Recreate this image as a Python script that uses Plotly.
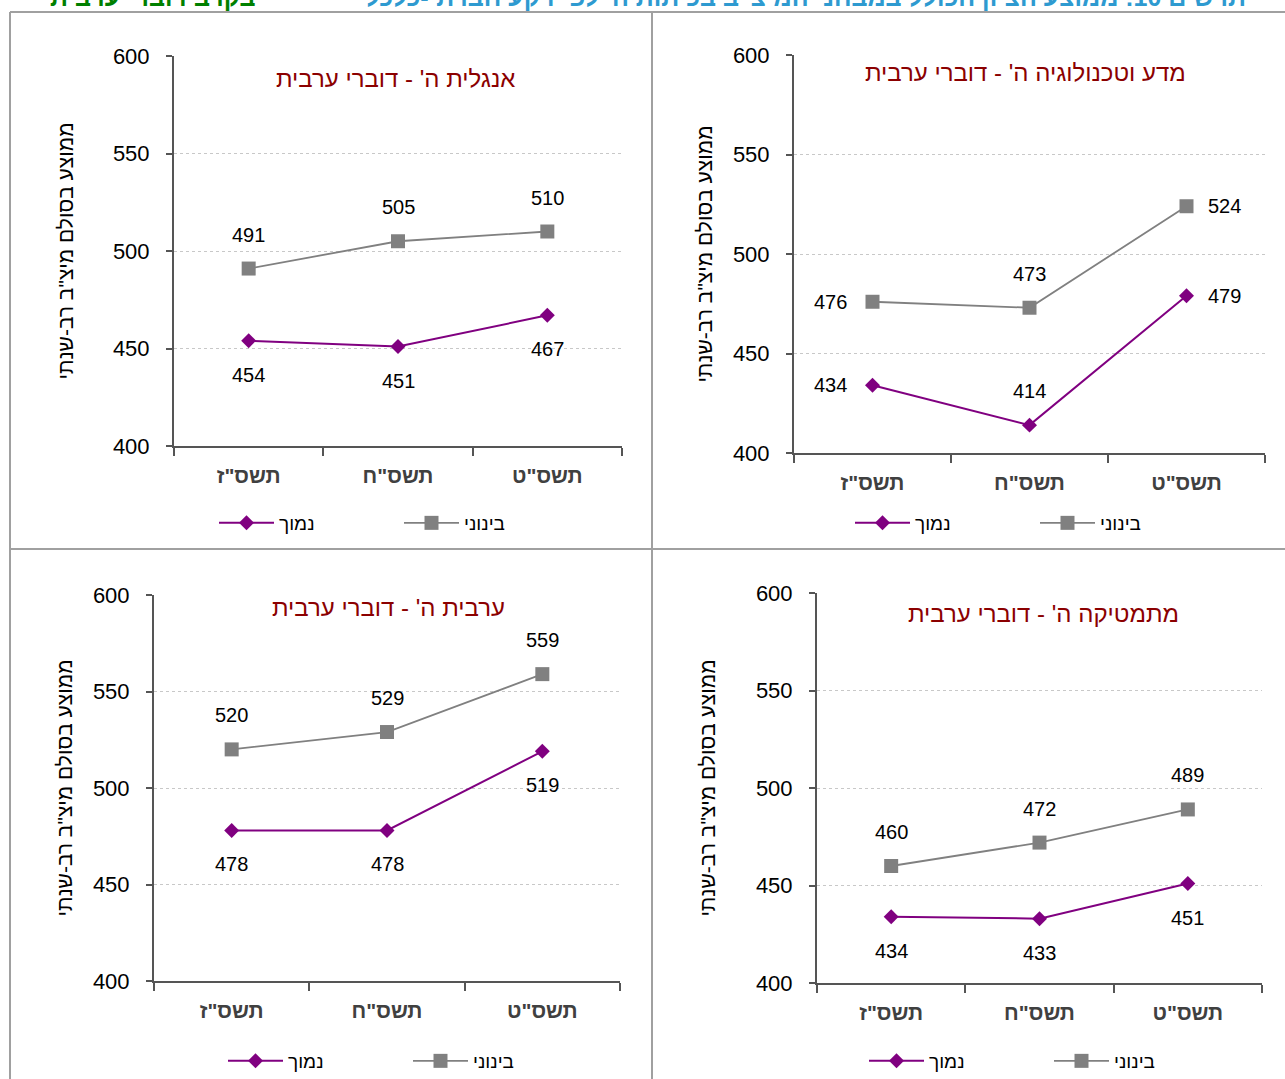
import plotly.graph_objects as go

W, H = 1285, 1079

categories = ['תשס"ז', 'תשס"ח', 'תשס"ט']
series_names = ["נמוך", "בינוני"]

panel_titles = [
    "אנגלית ה' - דוברי ערבית",
    "מדע וטכנולוגיה ה' - דוברי ערבית",
    "ערבית ה' - דוברי ערבית",
    "מתמטיקה ה' - דוברי ערבית",
]

english_low = [454, 451, 467]
english_mid = [491, 505, 510]
science_low = [434, 414, 479]
science_mid = [476, 473, 524]
arabic_low = [478, 478, 519]
arabic_mid = [520, 529, 559]
math_low = [434, 433, 451]
math_mid = [460, 472, 489]

y_ticks = [400, 450, 500, 550, 600]
y_title = 'ממוצע בסולם מיצ"ב רב-שנתי'
main_title_blue = 'תרשים 10: ממוצע הציון הכולל במבחני המיצ"ב בכיתות ה\' לפי רקע חברתי-כלכלי'
main_title_green = "בקרב דוברי ערבית"

# label placement per point
english_low_pos = ["below", "below", "below"]
english_mid_pos = ["above", "above", "above"]
science_low_pos = ["left", "above", "right"]
science_mid_pos = ["left", "above", "right"]
arabic_low_pos = ["below", "below", "below"]
arabic_mid_pos = ["above", "above", "above"]
math_low_pos = ["below", "below", "below"]
math_mid_pos = ["above", "above", "above"]

FONT = "Liberation Sans, Arial, sans-serif"
PURPLE = "#800080"
GRAY = "#808080"
DARKRED = "#8B0000"
AXIS = "#555555"


def px_x(p):
    return p / W


def px_y(p):
    return 1 - p / H


# layout geometry (pixels): plot area left, right, top, bottom
panels = [
    dict(low=english_low, mid=english_mid, lp=english_low_pos, mp=english_mid_pos,
         box=(174, 622, 56, 446), title_xy=(395, 78), legend_x=222, legend_y=523, standoff=34),
    dict(low=science_low, mid=science_mid, lp=science_low_pos, mp=science_mid_pos,
         box=(794, 1265, 55, 453), title_xy=(1025, 73), legend_x=858, legend_y=523, standoff=15),
    dict(low=arabic_low, mid=arabic_mid, lp=arabic_low_pos, mp=arabic_mid_pos,
         box=(154, 620, 595, 981), title_xy=(388, 607), legend_x=231, legend_y=1061, standoff=15),
    dict(low=math_low, mid=math_mid, lp=math_low_pos, mp=math_mid_pos,
         box=(817, 1262, 593, 983), title_xy=(1043, 613), legend_x=872, legend_y=1061, standoff=35),
]

SHIFT = {"above": (0, 34), "below": (0, -34), "left": (-42, 0), "right": (38, 0)}

fig = go.Figure()
annotations = []

for i, p in enumerate(panels):
    n = "" if i == 0 else str(i + 1)
    xa, ya = "x" + n, "y" + n
    leg = "legend" + n
    fig.add_trace(go.Scatter(
        x=categories, y=p["low"], name=series_names[0], mode="lines+markers",
        line=dict(color=PURPLE, width=2),
        marker=dict(symbol="diamond", size=11.5, color=PURPLE),
        xaxis=xa, yaxis=ya, legend=leg, hoverinfo="skip"))
    fig.add_trace(go.Scatter(
        x=categories, y=p["mid"], name=series_names[1], mode="lines+markers",
        line=dict(color=GRAY, width=1.8),
        marker=dict(symbol="square", size=14, color=GRAY),
        xaxis=xa, yaxis=ya, legend=leg, hoverinfo="skip"))

    for vals, poss in ((p["low"], p["lp"]), (p["mid"], p["mp"])):
        for c, v, pos in zip(categories, vals, poss):
            dx, dy = SHIFT[pos]
            annotations.append(dict(
                x=c, y=v, xref=xa, yref=ya, text=str(v), showarrow=False,
                xshift=dx, yshift=dy, font=dict(family=FONT, size=20, color="#000")))

    l, r, t, b = p["box"]
    fig.layout["xaxis" + n] = dict(
        domain=[px_x(l), px_x(r)], anchor=ya, type="category", range=[-0.5, 2.5],
        tickson="boundaries", ticks="outside", ticklen=8, tickcolor=AXIS, tickwidth=1.5,
        showline=True, linecolor=AXIS, linewidth=2, showgrid=False, automargin=False,
        tickfont=dict(family=FONT, size=21, color="#404040", weight="bold"),
        ticklabelstandoff=10, fixedrange=True)
    fig.layout["yaxis" + n] = dict(
        domain=[px_y(b), px_y(t)], anchor=xa, range=[400, 600],
        tickvals=y_ticks, ticks="outside", ticklen=6, tickcolor=AXIS, tickwidth=1.5,
        showline=True, linecolor=AXIS, linewidth=2, automargin=False,
        showgrid=True, gridcolor="#c8c8c8", griddash="dot", gridwidth=1,
        zeroline=False, ticklabelstandoff=12,
        tickfont=dict(family=FONT, size=22, color="#000"),
        title=dict(text=y_title, standoff=p["standoff"],
                   font=dict(family=FONT, size=21, color="#000")),
        fixedrange=True)

    tx, ty = p["title_xy"]
    annotations.append(dict(
        x=px_x(tx), y=px_y(ty), xref="paper", yref="paper", text=panel_titles[i],
        showarrow=False, xanchor="center", yanchor="middle",
        font=dict(family=FONT, size=24, color=DARKRED)))

    fig.layout[leg] = dict(
        orientation="h", x=px_x(p["legend_x"] - 8), y=px_y(p["legend_y"]),
        xanchor="left", yanchor="middle",
        xref="paper", yref="paper", bgcolor="rgba(0,0,0,0)",
        font=dict(family=FONT, size=19, color="#000"),
        itemwidth=55, entrywidth=115, entrywidthmode="pixels")

# main (cut-off) title
annotations.append(dict(
    x=px_x(1248), y=px_y(13), xref="paper", yref="paper", text=main_title_blue,
    showarrow=False, xanchor="right", yanchor="bottom",
    font=dict(family=FONT, size=25, color="#2E9AD0", weight="bold")))
annotations.append(dict(
    x=px_x(258), y=px_y(13), xref="paper", yref="paper", text=main_title_green,
    showarrow=False, xanchor="right", yanchor="bottom",
    font=dict(family=FONT, size=25, color="#008000", weight="bold")))

# panel frame lines
BORDER = dict(color="#a0a0a0", width=2)
shapes = [
    dict(type="line", xref="paper", yref="paper", x0=px_x(10), x1=1, y0=px_y(12), y1=px_y(12), line=BORDER),
    dict(type="line", xref="paper", yref="paper", x0=px_x(10), x1=px_x(10), y0=px_y(12), y1=0, line=BORDER),
    dict(type="line", xref="paper", yref="paper", x0=px_x(652), x1=px_x(652), y0=px_y(12), y1=0, line=BORDER),
    dict(type="line", xref="paper", yref="paper", x0=px_x(10), x1=1, y0=px_y(549), y1=px_y(549), line=BORDER),
]

fig.update_layout(
    template="none",
    width=W, height=H, margin=dict(l=0, r=0, t=0, b=0, pad=0, autoexpand=False),
    paper_bgcolor="white", plot_bgcolor="white",
    annotations=annotations, shapes=shapes,
    font=dict(family=FONT),
)

fig.write_html(
    "out.html",
    config={"displayModeBar": False},
    post_script="document.body.style.margin='0';document.body.style.overflow='hidden';",
)
